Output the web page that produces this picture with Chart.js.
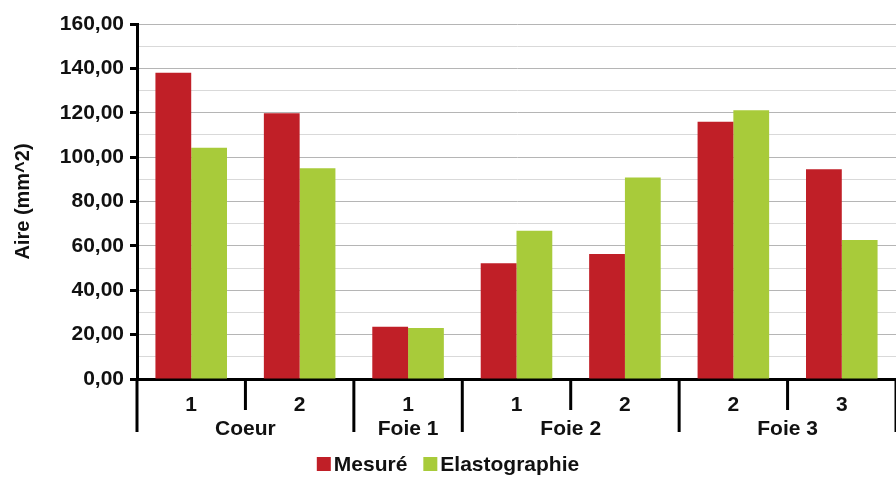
<!DOCTYPE html>
<html>
<head>
<meta charset="utf-8">
<script src="https://cdn.jsdelivr.net/npm/chart.js@4"></script>
<style>
  html, body { margin: 0; padding: 0; background: #fff; overflow: hidden; }
  #wrap { width: 896px; height: 477px; }
</style>
</head>
<body>
<div id="wrap"><canvas id="chart" width="896" height="477"></canvas></div>
<script>
// données
const sousCategories = ['1', '2', '1', '1', '2', '2', '3'];
const groupes = ['Coeur', 'Coeur', 'Foie 1', 'Foie 2', 'Foie 2', 'Foie 3', 'Foie 3'];
const mesure = [138.0, 119.8, 23.6, 52.2, 56.3, 116.0, 94.5];
const elastographie = [104.2, 95.0, 23.0, 66.8, 90.8, 121.1, 62.6];
const yMax = 160;
const yStep = 10;

const police = '"Liberation Sans", Arial, sans-serif';
const texte = '#111111';

// séparateurs et noms de groupes sous l'axe x
const groupesPlugin = {
  id: 'groupes',
  afterDraw(chart) {
    const ctx = chart.ctx;
    const x = chart.scales.x;
    const bas = chart.chartArea.bottom;
    const demi = (x.getPixelForValue(1) - x.getPixelForValue(0)) / 2;
    ctx.save();
    ctx.strokeStyle = '#000';
    ctx.lineWidth = 3;
    ctx.fillStyle = texte;
    ctx.font = 'bold 21px ' + police;
    ctx.textAlign = 'center';
    ctx.textBaseline = 'middle';
    let debut = 0;
    for (let i = 0; i <= groupes.length; i++) {
      const bord = x.getPixelForValue(i) - demi;
      if (i === groupes.length || (i > 0 && groupes[i] !== groupes[i - 1])) {
        // fin d'un groupe
        const g0 = x.getPixelForValue(debut) - demi;
        ctx.fillText(groupes[debut], (g0 + bord) / 2, bas + 50);
        debut = i;
      }
      const long = i === 0 || i === groupes.length || groupes[i] !== groupes[i - 1];
      ctx.beginPath();
      ctx.moveTo(bord, bas);
      ctx.lineTo(bord, bas + (long ? 53 : 31));
      ctx.stroke();
    }
    ctx.restore();
  }
};

// légende compacte en bas (carré collé au texte)
const legendePlugin = {
  id: 'legende',
  afterDraw(chart) {
    const ctx = chart.ctx;
    const y = chart.height - 13;
    const box = 14, gap = 3, entre = 16;
    ctx.save();
    ctx.font = 'bold 21px ' + police;
    ctx.textBaseline = 'middle';
    const items = chart.data.datasets.map(d => ({
      label: d.label, color: d.backgroundColor, w: ctx.measureText(d.label).width
    }));
    const total = items.reduce((s, it) => s + box + gap + it.w, 0) + entre * (items.length - 1);
    let x = (chart.width - total) / 2;
    items.forEach(it => {
      ctx.fillStyle = it.color;
      ctx.fillRect(x, y - box / 2, box, box);
      x += box + gap;
      ctx.fillStyle = texte;
      ctx.fillText(it.label, x, y + 1);
      x += it.w + entre;
    });
    ctx.restore();
  }
};

new Chart(document.getElementById('chart'), {
  type: 'bar',
  data: {
    labels: sousCategories,
    datasets: [
      {
        label: 'Mesuré',
        data: mesure,
        backgroundColor: '#c01f27',
        barPercentage: 1,
        categoryPercentage: 0.66
      },
      {
        label: 'Elastographie',
        data: elastographie,
        backgroundColor: '#a8cb3a',
        barPercentage: 1,
        categoryPercentage: 0.66
      }
    ]
  },
  options: {
    responsive: false,
    animation: false,
    layout: { padding: { top: 24, right: 0, left: 6, bottom: 26 } },
    plugins: {
      tooltip: { enabled: false },
      legend: { display: false }
    },
    scales: {
      x: {
        afterFit(scale) { scale.height = 72; },
        border: { display: true, color: '#000', width: 3 },
        grid: { display: false, drawTicks: false },
        ticks: {
          color: texte,
          padding: 14,
          font: { family: police, size: 21, weight: 'bold' }
        }
      },
      y: {
        min: 0,
        max: yMax,
        afterFit(scale) { scale.width = 131; },
        border: { display: true, color: '#000', width: 3 },
        grid: {
          color: (c) => c.tick && c.tick.value % 20 === 0 ? '#b5b5b5' : '#d9d9d9',
          tickColor: (c) => c.tick && c.tick.value % 20 === 0 ? '#000' : 'rgba(0,0,0,0)',
          tickLength: 7,
          tickWidth: 3
        },
        ticks: {
          stepSize: yStep,
          maxTicksLimit: 20,
          autoSkip: false,
          color: texte,
          padding: 6,
          font: { family: police, size: 21, weight: 'bold' },
          callback: (v) => v % 20 === 0 ? v.toFixed(2).replace('.', ',') : ''
        },
        title: {
          display: true,
          text: 'Aire (mm^2)',
          color: texte,
          padding: { top: 5, bottom: 4 },
          font: { family: police, size: 20, weight: 'bold' }
        }
      }
    }
  },
  plugins: [groupesPlugin, legendePlugin]
});
</script>
</body>
</html>
